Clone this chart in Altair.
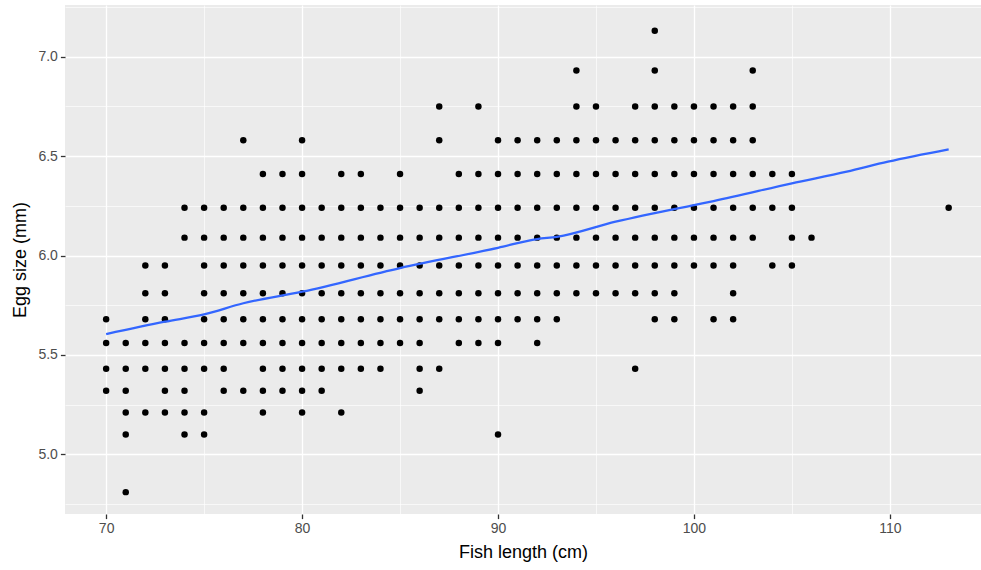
import altair as alt
import pandas as pd

# Fish length (cm) columns and the egg sizes (mm) observed at each length
lengths = [70, 71, 72, 73, 74, 75, 76, 77, 78, 79, 80, 81, 82, 83, 84, 85, 86, 87,
           88, 89, 90, 91, 92, 93, 94, 95, 96, 97, 98, 99, 100, 101, 102, 103, 104,
           105, 106, 113]
egg_sizes = [
    [5.68, 5.56, 5.43, 5.32],
    [5.56, 5.43, 5.32, 5.21, 5.10, 4.81],
    [5.95, 5.81, 5.68, 5.56, 5.43, 5.21],
    [5.95, 5.81, 5.68, 5.56, 5.43, 5.32, 5.21],
    [6.24, 6.09, 5.56, 5.43, 5.32, 5.21, 5.10],
    [6.24, 6.09, 5.95, 5.81, 5.68, 5.56, 5.43, 5.21, 5.10],
    [6.24, 6.09, 5.95, 5.81, 5.68, 5.56, 5.43, 5.32],
    [6.58, 6.24, 6.09, 5.95, 5.81, 5.68, 5.56, 5.32],
    [6.41, 6.24, 6.09, 5.95, 5.81, 5.68, 5.56, 5.43, 5.32, 5.21],
    [6.41, 6.24, 6.09, 5.95, 5.81, 5.68, 5.56, 5.43, 5.32],
    [6.58, 6.41, 6.24, 6.09, 5.95, 5.81, 5.68, 5.56, 5.43, 5.32, 5.21],
    [6.24, 6.09, 5.95, 5.81, 5.68, 5.56, 5.43, 5.32],
    [6.41, 6.24, 6.09, 5.95, 5.81, 5.68, 5.56, 5.43, 5.21],
    [6.41, 6.24, 6.09, 5.95, 5.81, 5.68, 5.56, 5.43],
    [6.24, 6.09, 5.95, 5.81, 5.68, 5.56, 5.43],
    [6.41, 6.24, 6.09, 5.95, 5.81, 5.68, 5.56],
    [6.24, 6.09, 5.95, 5.81, 5.68, 5.56, 5.43, 5.32],
    [6.75, 6.58, 6.24, 6.09, 5.95, 5.81, 5.68, 5.43],
    [6.41, 6.24, 6.09, 5.95, 5.81, 5.68, 5.56],
    [6.75, 6.41, 6.24, 6.09, 5.95, 5.81, 5.68, 5.56],
    [6.58, 6.41, 6.24, 6.09, 5.95, 5.81, 5.68, 5.56, 5.10],
    [6.58, 6.41, 6.24, 6.09, 5.95, 5.81, 5.68],
    [6.58, 6.41, 6.24, 6.09, 5.95, 5.81, 5.68, 5.56],
    [6.58, 6.41, 6.24, 6.09, 5.95, 5.81, 5.68],
    [6.93, 6.75, 6.58, 6.41, 6.24, 6.09, 5.95, 5.81],
    [6.75, 6.58, 6.41, 6.24, 6.09, 5.95, 5.81],
    [6.58, 6.41, 6.24, 6.09, 5.95, 5.81],
    [6.75, 6.58, 6.41, 6.24, 6.09, 5.95, 5.81, 5.43],
    [7.13, 6.93, 6.75, 6.58, 6.41, 6.24, 6.09, 5.95, 5.81, 5.68],
    [6.75, 6.58, 6.41, 6.24, 6.09, 5.95, 5.81, 5.68],
    [6.75, 6.58, 6.41, 6.24, 6.09, 5.95],
    [6.75, 6.58, 6.41, 6.24, 6.09, 5.95, 5.68],
    [6.75, 6.58, 6.41, 6.24, 6.09, 5.95, 5.81, 5.68],
    [6.93, 6.75, 6.58, 6.41, 6.24, 6.09],
    [6.41, 6.24, 5.95],
    [6.41, 6.24, 6.09, 5.95],
    [6.09],
    [6.24],
]

# Smoothed trend line
smooth_x = [70, 73, 75, 77, 80, 85, 90, 92, 93, 96, 100, 101, 105, 107.8, 109.9, 113]
smooth_y = [5.605, 5.667, 5.704, 5.76, 5.818, 5.937, 6.039, 6.083, 6.094, 6.170,
            6.254, 6.274, 6.363, 6.422, 6.472, 6.534]

x_ticks = [70, 75, 80, 85, 90, 95, 100, 105, 110]
y_ticks = [4.75, 5.0, 5.25, 5.5, 5.75, 6.0, 6.25, 6.5, 6.75, 7.0, 7.25]

rows = [{"length": L, "egg": e} for L, es in zip(lengths, egg_sizes) for e in es]
points_df = pd.DataFrame(rows)
smooth_df = pd.DataFrame({"length": smooth_x, "egg": smooth_y})

FONT = "Liberation Sans"

x_scale = alt.Scale(domain=[67.9, 114.65], nice=False, zero=False)
y_scale = alt.Scale(domain=[4.70, 7.26], nice=False, zero=False)

x_major = "datum.value % 10 == 0"
y_major = "abs(datum.value * 2 - round(datum.value * 2)) < 0.001"

x_axis = alt.Axis(
    values=x_ticks,
    title="Fish length (cm)",
    labelExpr=f"{x_major} ? format(datum.value, 'd') : ''",
    grid=True,
    gridColor="white",
    gridWidth={"condition": {"test": x_major, "value": 1.35}, "value": 0.67},
    tickOpacity={"condition": {"test": x_major, "value": 1}, "value": 0},
    tickColor="#333333",
    tickSize=4.6,
    tickWidth=1.3,
    domain=False,
    labelFont=FONT,
    labelFontSize=14,
    labelColor="#4D4D4D",
    labelPadding=3,
    titleFont=FONT,
    titleFontSize=18,
    titleFontWeight="normal",
    titleColor="black",
    titlePadding=8,
)
y_axis = alt.Axis(
    values=y_ticks,
    title="Egg size (mm)",
    labelExpr=f"{y_major} ? format(datum.value, '.1f') : ''",
    grid=True,
    gridColor="white",
    gridWidth={"condition": {"test": y_major, "value": 1.35}, "value": 0.67},
    tickOpacity={"condition": {"test": y_major, "value": 1}, "value": 0},
    tickColor="#333333",
    tickSize=4.6,
    tickWidth=1.3,
    domain=False,
    labelFont=FONT,
    labelFontSize=14,
    labelColor="#4D4D4D",
    labelPadding=3,
    titleFont=FONT,
    titleFontSize=18,
    titleFontWeight="normal",
    titleColor="black",
    titlePadding=8,
)

points = alt.Chart(points_df).mark_circle(size=42, color="black", opacity=1).encode(
    x=alt.X("length:Q", scale=x_scale, axis=x_axis),
    y=alt.Y("egg:Q", scale=y_scale, axis=y_axis),
)

line = alt.Chart(smooth_df).mark_line(color="#3366FF", strokeWidth=2.3, interpolate="monotone").encode(
    x=alt.X("length:Q", scale=x_scale),
    y=alt.Y("egg:Q", scale=y_scale),
)

chart = (
    alt.layer(points, line)
    .properties(
        width=916,
        height=509,
        autosize=alt.AutoSizeParams(type="none"),
        padding={"left": 65, "top": 5, "right": 0, "bottom": 56},
        background="white",
    )
    .configure_view(fill="#EBEBEB", stroke=None)
)

chart.save("out.html", embed_options={"renderer": "svg", "actions": False})
